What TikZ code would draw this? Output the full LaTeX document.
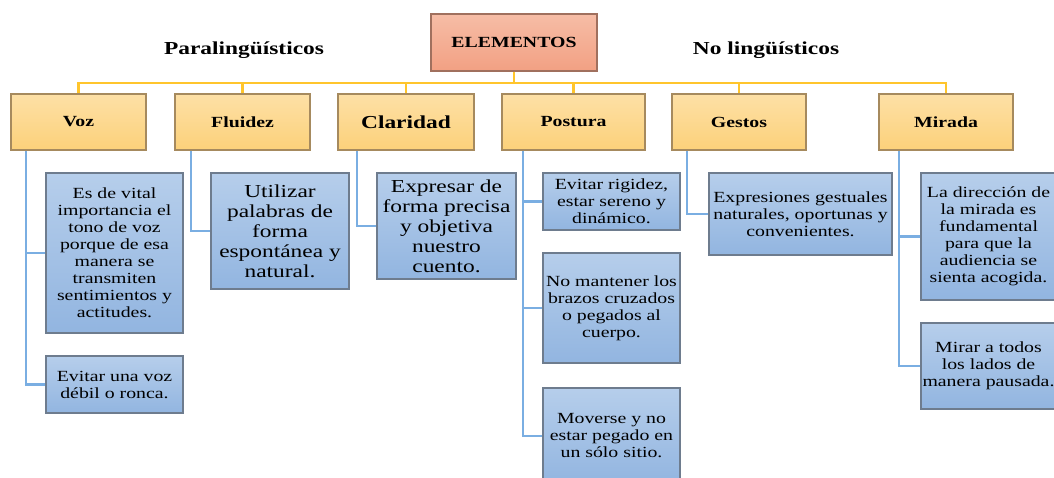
\documentclass[tikz,border=0pt]{standalone}
\usepackage{fontspec}
\setmainfont{Liberation Serif}[FakeStretch=1.28]
\usepackage{tikz}

\definecolor{roottop}{HTML}{F6BDA6}
\definecolor{rootbot}{HTML}{F2A083}
\definecolor{rootedge}{HTML}{A0705E}
\definecolor{topictop}{HTML}{FDE0A6}
\definecolor{topicbot}{HTML}{FCD17A}
\definecolor{topicedge}{HTML}{A68A5E}
\definecolor{ideatop}{HTML}{B6CEEB}
\definecolor{ideabot}{HTML}{92B5E0}
\definecolor{ideaedge}{HTML}{6E7C8E}
\definecolor{busline}{HTML}{FFC52C}
\definecolor{twigline}{HTML}{7AAEE2}

\begin{document}
\begin{tikzpicture}[x=0.025cm, y=-0.025cm,
  root/.style={draw=rootedge, line width=1pt, top color=roottop, bottom color=rootbot,
    minimum width=4.15cm, minimum height=1.425cm, font=\bfseries\fontsize{11}{12}\selectfont},
  topic/.style={draw=topicedge, line width=1pt, top color=topictop, bottom color=topicbot,
    minimum height=1.4cm, font=\bfseries\fontsize{11}{12}\selectfont},
  idea/.style={draw=ideaedge, line width=1pt, top color=ideatop, bottom color=ideabot,
    align=center, inner sep=1pt, font=\fontsize{11}{12.1}\selectfont},
  bigidea/.style={idea, font=\fontsize{13}{14.2}\selectfont},
  bus/.style={draw=busline, line width=1.5pt},
  twig/.style={draw=twigline, line width=1.5pt}]

\useasboundingbox (0,0) rectangle (1054,478);

% Root and group titles
\node [root] (elem) at ( 514, 42.5 ) {ELEMENTOS};
\node (para) at ( 244, 50 ) {\bfseries\fontsize{13}{14}\selectfont Paralingüísticos};
\node (nolin) at ( 766, 50 ) {\bfseries\fontsize{13}{14}\selectfont No lingüísticos};

% Elements
\node [topic, minimum width=3.375cm] (voz) at ( 78.5, 122 ) {Voz};
\node [topic, minimum width=3.375cm] (fluidez) at ( 242.5, 122 ) {Fluidez};
\node [topic, minimum width=3.4cm, font=\bfseries\fontsize{13}{14}\selectfont] (claridad) at ( 406, 122 ) {Claridad};
\node [topic, minimum width=3.575cm] (postura) at ( 573.5, 122 ) {Postura};
\node [topic, minimum width=3.35cm] (gestos) at ( 739, 122 ) {Gestos};
\node [topic, minimum width=3.35cm] (mirada) at ( 946, 122 ) {Mirada};

% Voz
\node [idea, minimum width=3.425cm, minimum height=4cm] (voza) at ( 114.5, 253 )
  {Es de vital\\importancia el\\tono de voz\\porque de esa\\manera se\\transmiten\\sentimientos y\\actitudes.};
\node [idea, minimum width=3.425cm, minimum height=1.425cm] (vozb) at ( 114.5, 384.5 )
  {Evitar una voz\\débil o ronca.};

% Fluidez
\node [bigidea, minimum width=3.45cm, minimum height=2.9cm] (fluida) at ( 280, 231 )
  {Utilizar\\palabras de\\forma\\espontánea y\\natural.};

% Claridad
\node [bigidea, minimum width=3.475cm, minimum height=2.65cm] (clara) at ( 446.5, 226 )
  {Expresar de\\forma precisa\\y objetiva\\nuestro\\cuento.};

% Postura
\node [idea, minimum width=3.425cm, minimum height=1.425cm] (posa) at ( 611.5, 201.5 )
  {Evitar rigidez,\\estar sereno y\\dinámico.};
\node [idea, minimum width=3.425cm, minimum height=2.75cm] (posb) at ( 611.5, 308 )
  {No mantener los\\brazos cruzados\\o pegados al\\cuerpo.};
\node [idea, minimum width=3.425cm, minimum height=2.4cm] (posc) at ( 611.5, 436 )
  {Moverse y no\\estar pegado en\\un sólo sitio.};

% Gestos
\node [idea, minimum width=4.575cm, minimum height=2.05cm] (gesa) at ( 800.5, 214 )
  {Expresiones gestuales\\naturales, oportunas y\\convenientes.};

% Mirada
\node [idea, minimum width=3.375cm, minimum height=3.175cm] (mira) at ( 988.5, 236.5 )
  {La dirección de\\la mirada es\\fundamental\\para que la\\audiencia se\\sienta acogida.};
\node [idea, minimum width=3.375cm, minimum height=2.15cm] (mirb) at ( 988.5, 366 )
  {Mirar a todos\\los lados de\\manera pausada.};

% Bus from the root
\draw [bus] (elem.south) -- ++( 0, 11 ) coordinate (hub);
\foreach \t in {voz, fluidez, claridad, postura, gestos, mirada}
  \draw [bus] (hub) -| (\t.north);

% Branches to the ideas
\draw [twig] (voz.south west) ++( 16, 0 ) |- (voza.west);
\draw [twig] (voz.south west) ++( 16, 0 ) |- (vozb.west);
\draw [twig] (fluidez.south west) ++( 17, 0 ) |- (fluida.west);
\draw [twig] (claridad.south west) ++( 20, 0 ) |- (clara.west);
\draw [twig] (postura.south west) ++( 22, 0 ) |- (posa.west);
\draw [twig] (postura.south west) ++( 22, 0 ) |- (posb.west);
\draw [twig] (postura.south west) ++( 22, 0 ) |- (posc.west);
\draw [twig] (gestos.south west) ++( 16, 0 ) |- (gesa.west);
\draw [twig] (mirada.south west) ++( 21, 0 ) |- (mira.west);
\draw [twig] (mirada.south west) ++( 21, 0 ) |- (mirb.west);

\end{tikzpicture}
\end{document}
